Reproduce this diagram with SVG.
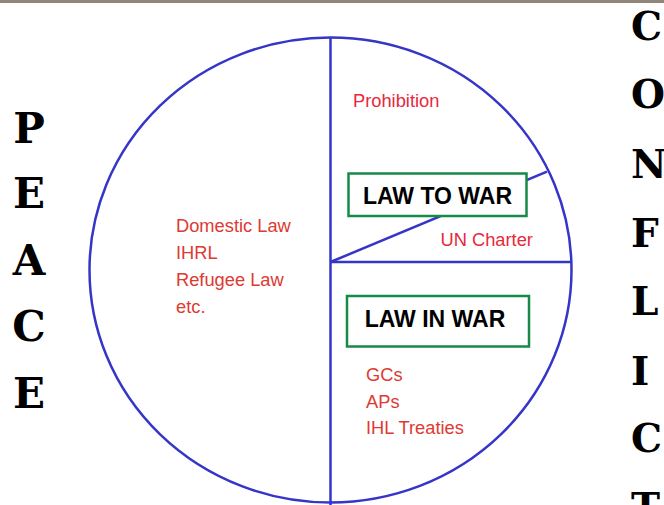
<svg xmlns="http://www.w3.org/2000/svg" width="664" height="505" viewBox="0 0 664 505">
<style>
.big{font-family:"DejaVu Serif","Liberation Serif",serif;font-weight:bold;font-size:42px;fill:#000}
.big2{font-family:"DejaVu Serif","Liberation Serif",serif;font-weight:bold;font-size:39px;fill:#000}
.red{font-family:"Liberation Sans",Arial,sans-serif;font-size:18.3px;fill:#dd3a32}
.pink{font-family:"Liberation Sans",Arial,sans-serif;font-size:18.3px;fill:#e8283c}
.lbl{font-family:"Liberation Sans",Arial,sans-serif;font-weight:bold;font-size:23px;fill:#000}
.box{fill:#fff;stroke:#178a48;stroke-width:2.5}
.ln{fill:none;stroke:#3535c8;stroke-width:2.5}
</style>
<rect x="0" y="0" width="664" height="3" fill="#928579"/>
<g id="peace">
<text class="big" x="29" y="143" text-anchor="middle">P</text>
<text class="big" x="29" y="208" text-anchor="middle">E</text>
<text class="big" x="29" y="275" text-anchor="middle">A</text>
<text class="big" x="29" y="341" text-anchor="middle">C</text>
<text class="big" x="29" y="408" text-anchor="middle">E</text>
</g>
<g id="conflict">
<text class="big2" x="631" y="40">C</text>
<text class="big2" x="631" y="108">O</text>
<text class="big2" x="631" y="178">N</text>
<text class="big2" x="631" y="247">F</text>
<text class="big2" x="631" y="315">L</text>
<text class="big2" x="631" y="385">I</text>
<text class="big2" x="631" y="452">C</text>
<text class="big2" x="631" y="521">T</text>
</g>
<g id="connectors">
<ellipse class="ln" cx="330.5" cy="270" rx="241" ry="232.5"/>
<line class="ln" x1="330.5" y1="37.5" x2="330.5" y2="505"/>
<line class="ln" x1="330.5" y1="262" x2="571.5" y2="262"/>
<line class="ln" x1="330.5" y1="262" x2="547" y2="171.7"/>
</g>
<g id="peace-laws">
<text class="red" x="176" y="232">Domestic Law</text>
<text class="red" x="176" y="258.5">IHRL</text>
<text class="red" x="176" y="285.5">Refugee Law</text>
<text class="red" x="176" y="312.5">etc.</text>
</g>
<g id="prohibition"><text class="pink" x="353" y="107">Prohibition</text></g>
<g id="law-to-war">
<rect class="box" x="348.5" y="173.5" width="178" height="42.5"/>
<text class="lbl" x="437.5" y="203.5" text-anchor="middle">LAW TO WAR</text>
</g>
<g id="un-charter"><text class="pink" x="440.5" y="246">UN Charter</text></g>
<g id="law-in-war">
<rect class="box" x="347" y="296" width="182" height="50.5"/>
<text class="lbl" x="435" y="327" text-anchor="middle">LAW IN WAR</text>
</g>
<g id="war-laws">
<text class="red" x="366" y="381">GCs</text>
<text class="red" x="366" y="407.5">APs</text>
<text class="red" x="366" y="433.5">IHL Treaties</text>
</g>
</svg>
